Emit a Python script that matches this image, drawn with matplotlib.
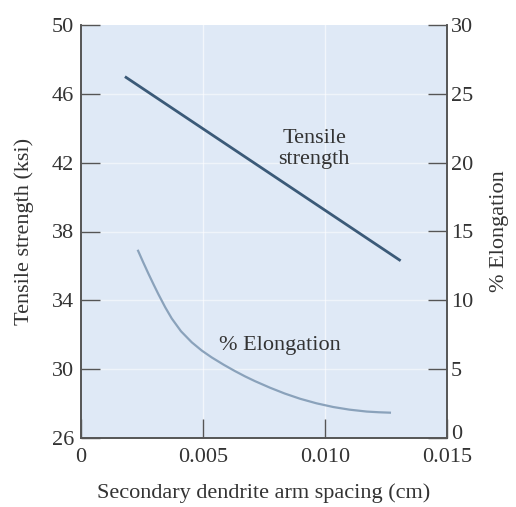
import matplotlib
matplotlib.use("Agg")
import matplotlib.pyplot as plt
from matplotlib.transforms import ScaledTranslation

plt.rcParams['font.family'] = ['Liberation Serif', 'DejaVu Serif']

# Data
spacing_ts = [0.0018, 0.0131]
tensile = [47.0, 36.3]

spacing_el = [0.00234, 0.00255, 0.00276, 0.00297, 0.00317, 0.00345, 0.00372, 0.00410,
              0.00454, 0.00495, 0.00536, 0.00585, 0.00631, 0.00673, 0.00713, 0.00775,
              0.00835, 0.00898, 0.00965, 0.01034, 0.01100, 0.01171, 0.01220, 0.01266]
elongation = [13.6, 12.76, 11.95, 11.17, 10.45, 9.5, 8.68, 7.75,
              6.95, 6.35, 5.85, 5.32, 4.86, 4.47, 4.13, 3.65,
              3.23, 2.85, 2.52, 2.25, 2.06, 1.92, 1.87, 1.84]

xticks = [0, 0.005, 0.010, 0.015]
xticklabels = ['0', '0.005', '0.010', '0.015']
yticks_left = [26, 30, 34, 38, 42, 46, 50]
yticks_right = [0, 5, 10, 15, 20, 25, 30]

text_c = '#333333'
fs = 16
fig = plt.figure(figsize=(5.16, 5.07), dpi=100)
ax = fig.add_axes([81/516, 69/507, 366/516, 413/507])
ax.set_facecolor('#dfe9f6')
ax.set_xlim(0, 0.015)
ax.set_ylim(26, 50)

for xv in xticks[1:-1]:
    ax.axvline(xv, color='white', lw=1.0, alpha=0.6, zorder=0)
for yv in yticks_left[1:-1]:
    ax.axhline(yv, color='white', lw=1.0, alpha=0.5, zorder=0)

ax.plot(spacing_ts, tensile, color='#3b5a78', lw=2.0, solid_capstyle='butt')

ax2 = ax.twinx()
ax2.set_ylim(0, 30)
ax2.plot(spacing_el, elongation, color='#8aa2bb', lw=1.6, solid_joinstyle='round')

ax.set_xticks(xticks)
ax.set_xticklabels(xticklabels)
ax.set_yticks(yticks_left)
ax2.set_yticks(yticks_right)

for a in (ax, ax2):
    a.spines['top'].set_visible(False)
    for s in a.spines.values():
        s.set_color('#555555')
        s.set_linewidth(1.2)

ax.tick_params(axis='both', direction='in', length=14, width=1.0, color='#555555',
               labelsize=fs, labelcolor=text_c)
ax.tick_params(axis='x', pad=7)
ax.tick_params(axis='y', pad=5)
ax2.tick_params(axis='y', direction='in', length=14, width=1.0, color='#555555',
                labelsize=fs, labelcolor=text_c, pad=3)

# lift the right-hand "0" slightly, as in the reference
lab0 = ax2.get_yticklabels()[0]
lab0.set_transform(lab0.get_transform() + ScaledTranslation(0, 4/72, fig.dpi_scale_trans))

ax.set_xlabel('Secondary dendrite arm spacing (cm)', fontsize=fs, color=text_c, labelpad=12)
ax.set_ylabel('Tensile strength (ksi)', fontsize=fs, color=text_c, labelpad=13)
ax2.set_ylabel('% Elongation', fontsize=fs, color=text_c, labelpad=12, rotation=90)

ax.text(0.00955, 42.8, 'Tensile\nstrength', ha='center', va='center', fontsize=fs,
        color=text_c, linespacing=1.1)
ax.text(0.00816, 31.4, '% Elongation', ha='center', va='center', fontsize=fs, color=text_c)

fig.savefig('out.png', dpi=100)
